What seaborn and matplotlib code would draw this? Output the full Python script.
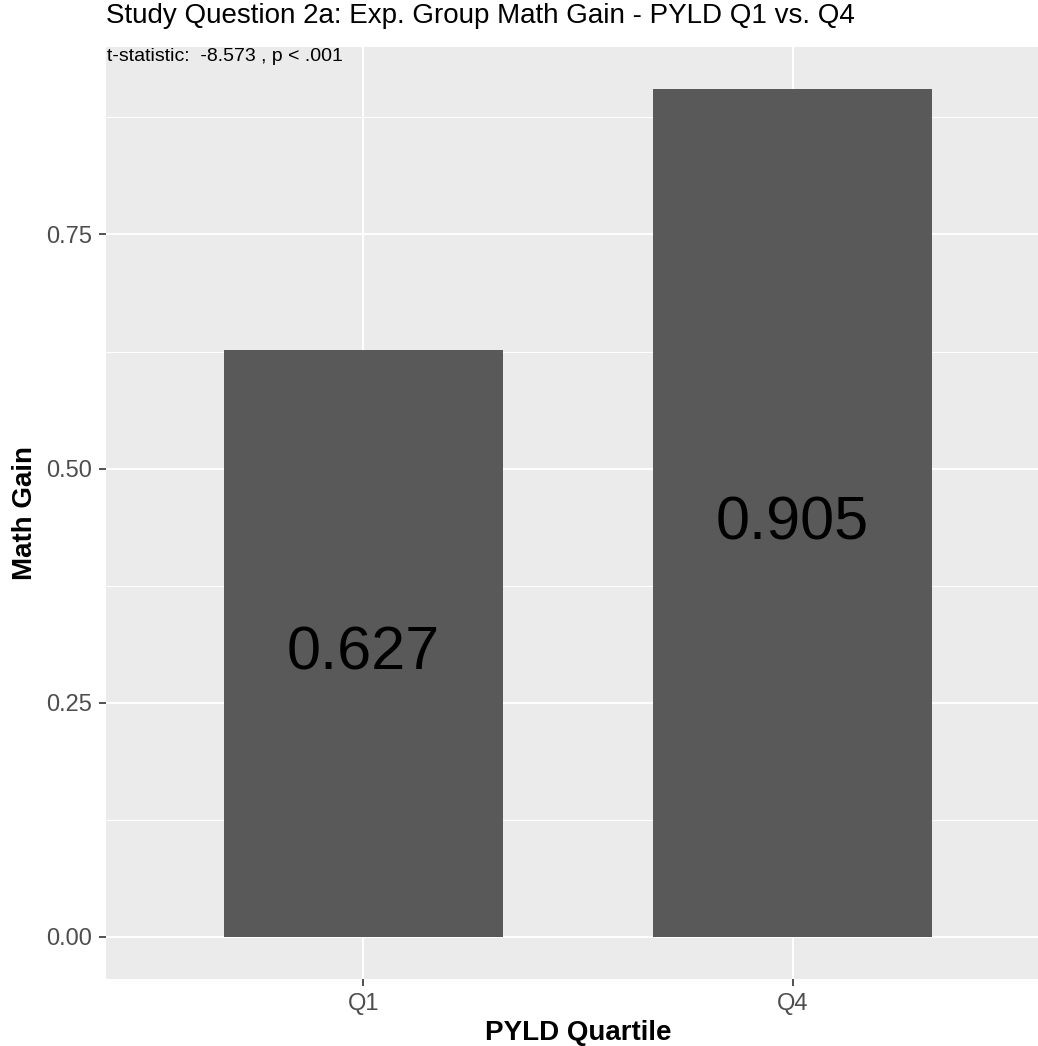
import numpy as np
import pandas as pd
import matplotlib
matplotlib.use("Agg")
import matplotlib.pyplot as plt
import seaborn as sns

# Data
quartiles = ["Q1", "Q4"]
math_gain = [0.627, 0.905]
bar_labels = ["0.627", "0.905"]
y_ticks = [0.0, 0.25, 0.5, 0.75]
y_tick_labels = ["0.00", "0.25", "0.50", "0.75"]
y_minor = [0.125, 0.375, 0.625, 0.875]

title = "Study Question 2a: Exp. Group Math Gain - PYLD Q1 vs. Q4"
subtitle = "t-statistic:  -8.573 , p < .001"

df = pd.DataFrame({"Quartile": quartiles, "Gain": math_gain})

sns.set_theme(style="darkgrid")
plt.rcParams['font.family'] = ['Liberation Sans', 'DejaVu Sans']

fig = plt.figure(figsize=(10.38, 10.46), dpi=100)
# panel runs a little past the right edge of the image, as in the reference
ax = fig.add_axes([106 / 1038, 1 - 979 / 1046, (1050 - 106) / 1038, (979 - 47) / 1046])
ax.set_facecolor("#EBEBEB")

sns.barplot(data=df, x="Quartile", y="Gain", color="#595959", saturation=1,
            width=0.65, ax=ax, zorder=3, edgecolor="none", linewidth=0)

for i, (v, lab) in enumerate(zip(math_gain, bar_labels)):
    ax.annotate(lab, (i, v / 2), xytext=(0, -19), textcoords="offset points",
                ha="center", va="baseline", fontsize=44, color="black", zorder=4)

ax.set_xlim(-0.6, 1.6)
ax.set_ylim(-0.04525, 0.95025)
ax.set_yticks(y_ticks)
ax.set_yticklabels(y_tick_labels)
ax.set_yticks(y_minor, minor=True)

ax.grid(which="major", color="white", linewidth=1.4, zorder=0)
ax.grid(which="minor", axis="y", color="white", linewidth=0.7, zorder=0)
ax.grid(which="minor", axis="x", visible=False)
ax.set_axisbelow(True)

for s in ax.spines.values():
    s.set_visible(False)

ax.tick_params(axis="both", which="major", length=5, width=1.2, color="#333333",
               labelsize=17, labelcolor="#4D4D4D", pad=5, direction="out")
ax.tick_params(axis="both", which="minor", length=0)
ax.tick_params(bottom=True, left=True)

ax.set_xlabel("PYLD Quartile", fontsize=20, fontweight="bold", color="black", labelpad=4)
ax.set_ylabel("Math Gain", fontsize=20, fontweight="bold", color="black", labelpad=6)

fig.text(106 / 1038, 1 - 3 / 1046, title, ha="left", va="top", fontsize=20, color="black")
ax.text(0.001, 0.999, subtitle, transform=ax.transAxes, ha="left", va="top",
        fontsize=14, color="black", zorder=5)

fig.savefig("out.png", dpi=100)
